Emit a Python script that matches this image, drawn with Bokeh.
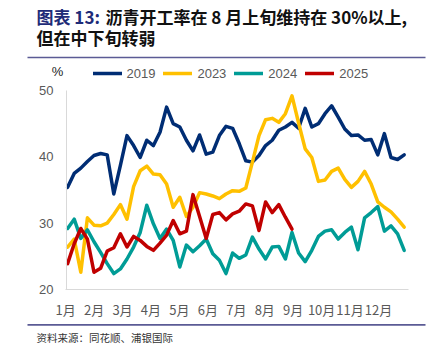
from bokeh.plotting import figure
from bokeh.models import (FixedTicker, Label, Legend, LegendItem, BoxAnnotation,
                          Range1d, LinearAxis)
from bokeh.embed import file_html
from bokeh.resources import INLINE

# ---- data (weekly asphalt operating rate, %) ----
weeks_full = list(range(52))
rate_2019 = [35.4, 37.5, 38.3, 39.3, 40.2, 40.5, 40.3, 34.4, 38.7, 43.2,
             41.7, 39.9, 42.5, 41.7, 43.7, 47.5, 45.0, 44.5, 42.5, 40.9,
             43.3, 40.4, 40.7, 43.2, 44.6, 44.3, 42.0, 39.4, 39.2, 40.2,
             41.7, 42.5, 44.0, 44.5, 45.2, 44.3, 47.3, 44.5, 45.0, 46.5,
             47.7, 46.0, 44.2, 43.2, 43.3, 42.5, 42.6, 40.3, 43.5, 39.9,
             39.6, 40.3]
rate_2023 = [26.4, 27.6, 22.6, 30.8, 29.7, 29.6, 30.0, 31.3, 32.8, 30.6,
             35.5, 37.9, 38.6, 37.4, 37.3, 35.9, 32.4, 33.9, 31.0, 32.4,
             34.6, 34.4, 34.1, 33.7, 34.4, 34.9, 34.8, 35.3, 39.2, 43.2,
             45.6, 45.8, 45.2, 46.5, 49.2, 45.1, 41.2, 39.9, 36.3, 36.5,
             37.8, 38.3, 36.6, 35.4, 36.3, 37.8, 35.9, 33.2, 32.4, 31.7,
             30.6, 29.4]
rate_2024 = [29.2, 30.6, 27.7, 29.0, 27.2, 25.6, 23.9, 22.4, 23.1, 24.6,
             26.4, 28.6, 32.7, 29.9, 27.7, 29.1, 27.4, 23.4, 26.7, 25.7,
             26.6, 27.6, 25.4, 24.4, 22.4, 25.5, 24.7, 25.2, 27.9, 26.1,
             24.6, 26.4, 26.5, 24.6, 28.6, 25.5, 24.2, 25.9, 28.0, 28.8,
             29.0, 27.6, 28.6, 29.4, 26.0, 30.8, 31.6, 32.5, 28.8, 29.6,
             28.4, 25.9]
weeks_2025 = list(range(35))
rate_2025 = [23.9, 26.9, 29.2, 27.6, 22.6, 23.2, 25.8, 26.3, 28.4, 26.4,
             28.0, 27.4, 26.5, 25.9, 27.0, 28.2, 30.4, 28.4, 28.8, 34.3,
             31.0, 27.7, 31.3, 31.6, 30.5, 31.4, 31.8, 32.9, 32.6, 28.9,
             33.2, 31.6, 32.8, 30.9, 29.1]

series_names = ["2019", "2023", "2024", "2025"]
series_colors = ["#002D74", "#FFC000", "#009C96", "#C00000"]
month_labels = ["1月", "2月", "3月", "4月", "5月", "6月", "7月", "8月",
                "9月", "10月", "11月", "12月"]
y_ticks = [20, 30, 40, 50]
title_tag = "图表 13:"
title_line1 = "沥青开工率在 8 月上旬维持在 30%以上,"
title_line2 = "但在中下旬转弱"
source_text = "资料来源：同花顺、浦银国际"

month_ticks = [round(-0.3 + 4.31 * k, 3) for k in range(12)]

W, H = 435, 348
CJK = "Noto Sans CJK SC"

# frame covers the whole canvas; pixel geometry of the plotting area
PX_X = 6.6                       # px per week
PX_Y = 199 / 30                  # px per percentage point
X0 = -67.1 / PX_X                # data x at canvas left
Y1 = 50 + 90 / PX_Y              # data y at canvas top
x_range = Range1d(X0, X0 + W / PX_X)
y_range = Range1d(Y1 - H / PX_Y, Y1)

def cx(px):
    return X0 + px / PX_X

def cy(py):
    return Y1 - py / PX_Y

p = figure(width=W, height=H, output_backend="svg", toolbar_location=None,
           title=None, x_axis_type=None, y_axis_type=None,
           x_range=x_range, y_range=y_range,
           min_border_left=0, min_border_right=0, min_border_top=0,
           min_border_bottom=0)
p.outline_line_color = None
p.background_fill_color = "white"
p.border_fill_color = "white"

renderers = []
for xs, ys, c in [(weeks_full, rate_2019, series_colors[0]),
                  (weeks_full, rate_2023, series_colors[1]),
                  (weeks_full, rate_2024, series_colors[2]),
                  (weeks_2025, rate_2025, series_colors[3])]:
    renderers.append(p.line(xs, ys, line_color=c, line_width=3.5,
                            line_join="round", line_cap="round"))

# axes drawn at fixed data locations (they take no border space)
x_end = cx(408)
yax = LinearAxis(fixed_location=cx(66), bounds=(20, 50), ticker=FixedTicker(ticks=y_ticks))
xax = LinearAxis(fixed_location=20, bounds=(-0.32, x_end), ticker=FixedTicker(ticks=month_ticks))
xax.major_label_overrides = {t: lab for t, lab in zip(month_ticks, month_labels)}
for ax in (xax, yax):
    ax.axis_line_color = "#D9D9D9"
    ax.axis_line_width = 1
    ax.major_tick_line_color = None
    ax.minor_tick_line_color = None
    ax.major_tick_out = 0
    ax.major_tick_in = 0
    ax.minor_tick_out = 0
    ax.minor_tick_in = 0
    ax.major_label_text_color = "#595959"
    ax.major_label_text_font_size = "13px"
yax.major_label_text_font = "Liberation Sans"
yax.major_label_standoff = 13
xax.major_label_text_font = CJK
xax.major_label_standoff = 10
p.add_layout(yax, "left")
p.add_layout(xax, "below")

# legend
legend = Legend(items=[LegendItem(label=n, renderers=[r])
                       for n, r in zip(series_names, renderers)],
                orientation="horizontal", location=(92.5, H - 81.3),
                glyph_width=29, glyph_height=16, label_height=16,
                label_standoff=5, spacing=8, padding=0, margin=0,
                border_line_color=None, background_fill_alpha=0,
                label_text_font_size="13px", label_text_color="#595959",
                label_text_font="Liberation Sans")
p.add_layout(legend)

def lab(text, x, y, size, color, font=CJK, style="normal", align="left"):
    p.add_layout(Label(x=cx(x), y=cy(y), text=text, text_font=font,
                       text_font_size=size, text_color=color,
                       text_font_style=style, text_baseline="middle",
                       text_align=align))

lab(title_tag, 36, 16, "17px", "#1E2B78", style="bold")
lab(title_line1, 105, 16, "17px", "#111111", style="bold")
lab(title_line2, 36, 37, "17px", "#111111", style="bold")
lab("%", 57, 71, "13px", "#222222", font="Liberation Sans", align="center")
lab(source_text, 36, 336.5, "10.5px", "#333333")

for top_px in (56.2, 323.6):
    p.add_layout(BoxAnnotation(left=cx(27), right=cx(425), top=cy(top_px),
                               bottom=cy(top_px + 1.6), fill_color="#5B5B95",
                               fill_alpha=1, line_color=None))

open("out.html", "w").write(file_html(p, INLINE))
